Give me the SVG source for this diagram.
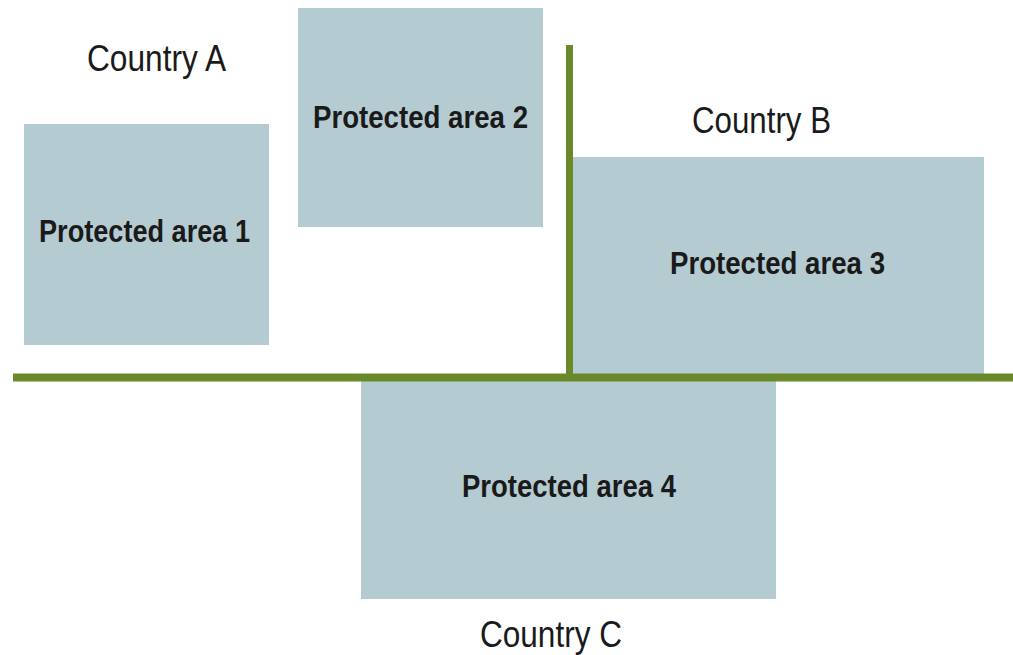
<svg xmlns="http://www.w3.org/2000/svg" width="1013" height="655" viewBox="0 0 1013 655">
<style>
.area{fill:#b5cbd2;}
.lbl{font-family:"Liberation Sans",Arial,sans-serif;font-weight:bold;font-size:31px;fill:#1a1a1a;text-anchor:middle;}
.cty{font-family:"Liberation Sans",Arial,sans-serif;font-size:37px;fill:#1a1a1a;text-anchor:middle;}
.border{stroke:#6a8a2a;fill:none;}
</style>
<rect width="1013" height="655" fill="#ffffff"/>
<g id="countryA"><text class="cty" x="156.5" y="71" textLength="139" lengthAdjust="spacingAndGlyphs">Country A</text></g>
<g id="countryB"><text class="cty" x="761.5" y="133" textLength="139" lengthAdjust="spacingAndGlyphs">Country B</text></g>
<g id="countryC"><text class="cty" x="551" y="647" textLength="142" lengthAdjust="spacingAndGlyphs">Country C</text></g>
<g id="pa1"><rect class="area" x="24" y="124" width="245" height="221"/><text class="lbl" x="144.5" y="242" textLength="211" lengthAdjust="spacingAndGlyphs">Protected area 1</text></g>
<g id="pa2"><rect class="area" x="298" y="8" width="245" height="219"/><text class="lbl" x="420.5" y="128" textLength="215" lengthAdjust="spacingAndGlyphs">Protected area 2</text></g>
<g id="pa3"><rect class="area" x="572" y="157" width="412" height="220"/><text class="lbl" x="777.5" y="274" textLength="215" lengthAdjust="spacingAndGlyphs">Protected area 3</text></g>
<g id="pa4"><rect class="area" x="361" y="378" width="415" height="221"/><text class="lbl" x="569" y="497" textLength="214" lengthAdjust="spacingAndGlyphs">Protected area 4</text></g>
<g id="borders">
<line class="border" x1="569.5" y1="45" x2="569.5" y2="378" stroke-width="7"/>
<line class="border" x1="13" y1="377.5" x2="1013" y2="377.5" stroke-width="8"/>
</g>
</svg>
